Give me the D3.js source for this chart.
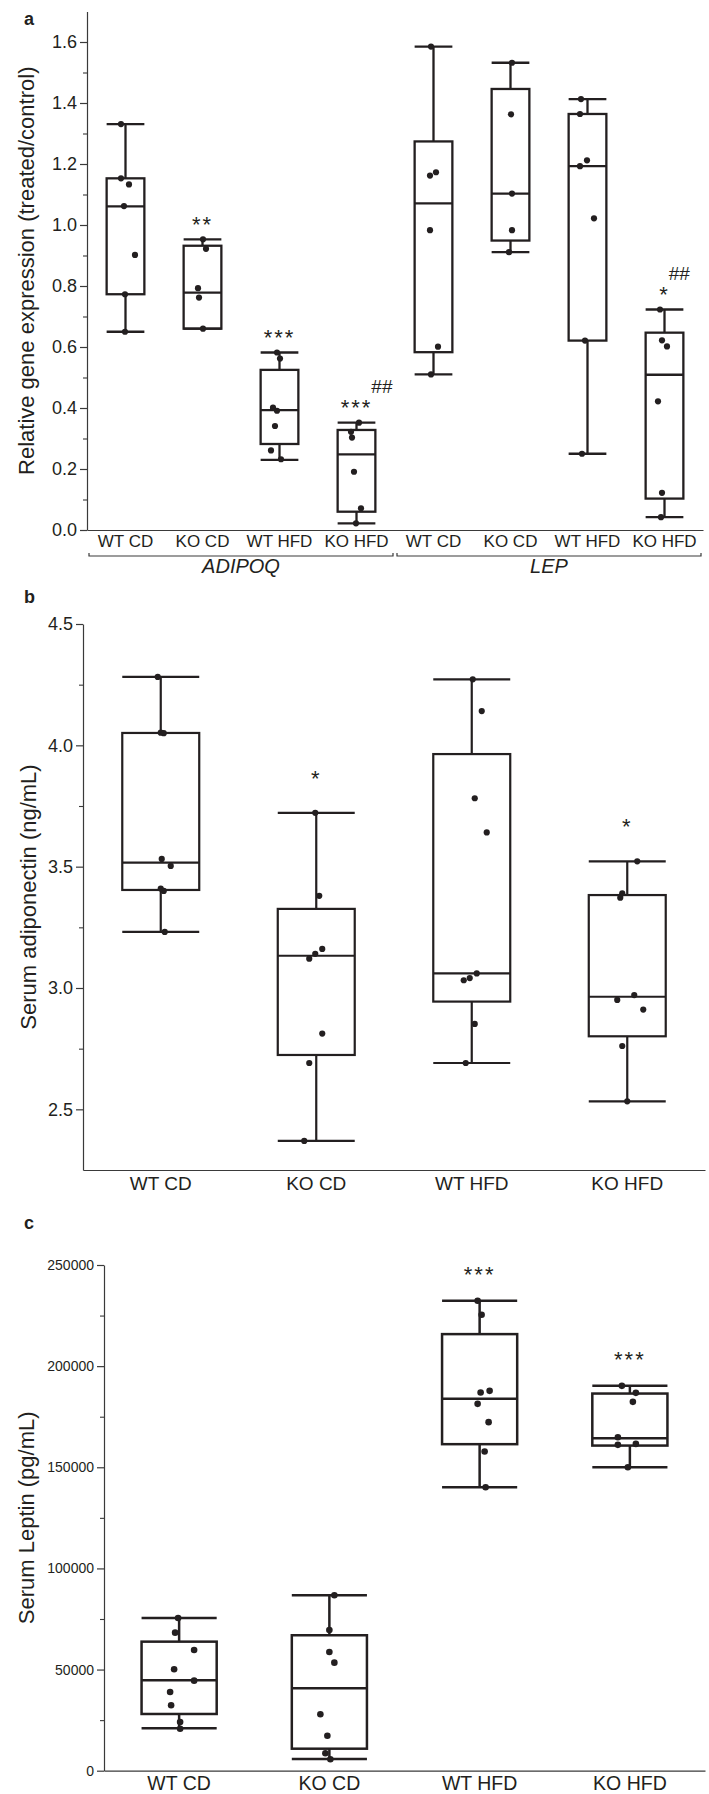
<!DOCTYPE html>
<html><head><meta charset="utf-8">
<script src="https://cdn.jsdelivr.net/npm/d3@7"></script>
<style>
body{margin:0;background:#fff}
svg{display:block}
</style>
</head><body>
<svg id="chart" width="709" height="1794"></svg>
<script>
// ---------------- DATA ----------------
// Panel a: relative gene expression
const geneCategories = ["WT CD","KO CD","WT HFD","KO HFD","WT CD","KO CD","WT HFD","KO HFD"];
const geneGroupLabels = ["ADIPOQ","LEP"];
const geneGroupMembers = [[0,3],[4,7]];
const geneTicks = [0,0.2,0.4,0.6,0.8,1.0,1.2,1.4,1.6];
const geneMinorTicks = [0.1,0.3,0.5,0.7,0.9,1.1,1.3,1.5];
const geneLow    = [0.650,0.660,0.230,0.022,0.510,0.911,0.250,0.042];
const geneQ1     = [0.773,0.660,0.282,0.060,0.583,0.949,0.621,0.103];
const geneMedian = [1.061,0.778,0.393,0.248,1.071,1.103,1.193,0.509];
const geneQ3     = [1.153,0.932,0.525,0.328,1.274,1.446,1.364,0.647];
const geneHigh   = [1.331,0.953,0.582,0.352,1.585,1.532,1.413,0.723];
const genePoints = [
  [1.331,1.153,1.133,1.062,0.902,0.773,0.650],
  [0.953,0.922,0.793,0.762,0.660],
  [0.582,0.562,0.401,0.391,0.341,0.261,0.232],
  [0.352,0.322,0.303,0.191,0.071,0.022],
  [1.585,1.173,1.162,0.983,0.601,0.510],
  [1.532,1.363,1.103,0.983,0.911],
  [1.413,1.364,1.212,1.193,1.022,0.621,0.250],
  [0.723,0.622,0.602,0.422,0.122,0.042]
];
const geneSignif = ["","**","***","***","","","","*"];
const geneHash   = ["","","","##","","","","##"];

// Panel b: serum adiponectin
const adipoCategories = ["WT CD","KO CD","WT HFD","KO HFD"];
const adipoTicks = [2.5,3.0,3.5,4.0,4.5];
const adipoMinorTicks = [2.75,3.25,3.75,4.25];
const adipoLow    = [3.231,2.370,2.691,2.533];
const adipoQ1     = [3.404,2.724,2.944,2.801];
const adipoMedian = [3.517,3.133,3.060,2.964];
const adipoQ3     = [4.051,3.326,3.964,3.383];
const adipoHigh   = [4.282,3.722,4.272,3.522];
const adipoPoints = [
  [4.282,4.052,4.050,3.532,3.503,3.410,3.400,3.231],
  [3.722,3.380,3.161,3.141,3.121,2.812,2.691,2.370],
  [4.272,4.141,3.782,3.641,3.060,3.041,3.032,2.852,2.691],
  [3.522,3.390,3.372,2.971,2.951,2.911,2.761,2.533]
];
const adipoSignif = ["","*","","*"];

// Panel c: serum leptin
const leptinCategories = ["WT CD","KO CD","WT HFD","KO HFD"];
const leptinTicks = [0,50000,100000,150000,200000,250000];
const leptinMinorTicks = [25000,75000,125000,175000,225000];
const leptinLow    = [20970,5790,140160,150040];
const leptinQ1     = [28040,10880,161420,160730];
const leptinMedian = [44710,40750,183830,164400];
const leptinQ3     = [63800,66960,215830,186450];
const leptinHigh   = [75500,86740,232290,190260];
const leptinPoints = [
  [75500,68250,59690,50150,44510,38920,32340,24080,20770],
  [86740,69580,58700,53410,27890,17310,8600,5640],
  [232290,225370,187780,186940,181350,172300,157770,140160],
  [190260,186800,182340,164880,161570,161080,150040]
];
const leptinSignif = ["","","***","***"];

// ---------------- LAYOUT / STYLE (jitter offsets in px) ----------------
const geneJitter = [
  [-4.5,-4.5,3.5,-1.5,9.5,-0.5,-0.5],
  [0.5,3.5,-4.5,-3.5,0.5],
  [-2.5,0.5,-6.5,-2.5,-4.5,-8.5,1.5],
  [2.5,-5.5,-4.5,-2.5,4.5,-0.5],
  [-2.5,2.5,-3.5,-3.5,4.5,-2.5],
  [1.5,0.5,1.5,1.5,-1.5],
  [-6.5,-7.5,-0.5,-7.5,6.5,-2.5,-5.5],
  [-4.5,-2.5,2.5,-6.5,-2.5,-3.5]
];
const adipoJitter = [
  [-3,0,3,1,10,0,3,4],
  [-1,3,6,-1,-7,6,-7,-12],
  [1,10,3,15,5,-2,-8,3,-6],
  [10,-5,-7,7,-10,16,-5,0]
];
const leptinJitter = [
  [-1,-4,15,-5,15,-9,-8,1,1],
  [5,0,0,5,-9,-2,-4,1],
  [-2,2,10,1,-2,9,5,6],
  [-8,6,3,-12,6,-12,-2]
];

const FONT = '"Liberation Sans", Arial, Helvetica, sans-serif';
const INK = "#231f20";
const AXIS = "#3a3a3a";

const svg = d3.select("#chart");
svg.append("rect").attr("width",709).attr("height",1794).attr("fill","#fff");

function drawPanel(o){
  const g = svg.append("g");
  const n = o.categories.length;
  const x = d3.scaleBand().domain(d3.range(n)).range(o.xRange).paddingInner(0).paddingOuter(0);
  const y = d3.scaleLinear().domain(o.yDomain).range(o.yRange);
  const bw = x.bandwidth()*o.boxFrac;
  const cx = i => x(i) + x.bandwidth()/2;

  // minor ticks
  const ym = g.append("g").attr("transform",`translate(${o.xRange[0]},0)`)
    .call(d3.axisLeft(y).tickValues(o.minorTicks).tickSize(4).tickSizeOuter(0).tickFormat(""));
  ym.select(".domain").remove();
  ym.selectAll(".tick line").attr("stroke",AXIS).attr("stroke-width",1.1);

  // major y axis
  const ya = g.append("g").attr("transform",`translate(${o.xRange[0]},0)`)
    .call(d3.axisLeft(y).tickValues(o.ticks).tickSize(7).tickSizeOuter(0).tickPadding(3).tickFormat(o.tickFormat));
  ya.attr("font-family",FONT).attr("font-size",o.tickFont);
  ya.select(".domain").attr("stroke",AXIS).attr("stroke-width",1.2);
  ya.selectAll(".tick line").attr("stroke",AXIS).attr("stroke-width",1.2);
  ya.selectAll(".tick text").attr("fill",INK);

  // x axis
  const xa = g.append("g").attr("transform",`translate(0,${o.yRange[0]})`)
    .call(d3.axisBottom(x).tickSize(0).tickSizeOuter(0).tickPadding(o.xPad).tickFormat(i=>o.categories[i]));
  xa.attr("font-family",FONT).attr("font-size",o.xFont);
  xa.select(".domain").attr("stroke",AXIS).attr("stroke-width",1.2);
  xa.selectAll(".tick text").attr("fill",INK);

  // boxes
  const sw = o.boxStroke;
  for(let i=0;i<n;i++){
    const c = cx(i);
    g.append("line").attr("x1",c).attr("x2",c).attr("y1",y(o.low[i])).attr("y2",y(o.high[i]))
      .attr("stroke",INK).attr("stroke-width",sw);
    g.append("rect").attr("x",c-bw/2).attr("width",bw)
      .attr("y",y(o.q3[i])).attr("height",Math.max(0,y(o.q1[i])-y(o.q3[i])))
      .attr("fill","#fff").attr("stroke",INK).attr("stroke-width",sw);
    g.append("line").attr("x1",c-bw/2).attr("x2",c+bw/2).attr("y1",y(o.median[i])).attr("y2",y(o.median[i]))
      .attr("stroke",INK).attr("stroke-width",sw);
    [o.low[i],o.high[i]].forEach(v=>{
      g.append("line").attr("x1",c-bw/2).attr("x2",c+bw/2).attr("y1",y(v)).attr("y2",y(v))
        .attr("stroke",INK).attr("stroke-width",sw).attr("stroke-linecap","butt");
    });
    g.selectAll(null).data(o.points[i]).enter().append("circle")
      .attr("cx",(d,j)=>c+o.jitter[i][j]).attr("cy",d=>y(d)).attr("r",o.r).attr("fill",INK);

    // significance
    const s = o.signif[i];
    if(s){
      const centerY = y(o.high[i]) - o.sigGap;
      const t = g.append("text").attr("x",c).attr("y",centerY + 0.58*o.sigFont)
        .attr("text-anchor","middle").attr("font-family",FONT).attr("font-size",o.sigFont)
        .attr("letter-spacing",2).attr("fill",INK).text(s);
      if(o.hash && o.hash[i]){
        const w = t.node().getComputedTextLength();
        g.append("text").attr("x",c + w/2 - 1).attr("y",centerY - 16 + 0.36*o.hashFont)
          .attr("font-family",FONT).attr("font-size",o.hashFont).attr("fill",INK).text(o.hash[i]);
      }
    }
  }

  // y title
  const ymid = (o.yRange[0]+o.yRange[1])/2;
  g.append("text").attr("transform",`translate(${o.titleX},${ymid}) rotate(-90)`)
    .attr("text-anchor","middle").attr("font-family",FONT).attr("font-size",o.titleFont)
    .attr("fill",INK).text(o.title);

  // panel letter
  g.append("text").attr("x",24).attr("y",o.letterY).attr("font-family",FONT)
    .attr("font-weight","bold").attr("font-size",18).attr("fill",INK).text(o.letter);

  // groups
  if(o.groupLabels){
    o.groupLabels.forEach((lab,k)=>{
      const [s,e] = o.groupMembers[k];
      const x1 = x(s)+2, x2 = x(e)+x.bandwidth()-2, yb = o.groupY;
      g.append("path").attr("d",`M${x1},${yb-3}V${yb}H${x2}V${yb-3}`)
        .attr("fill","none").attr("stroke",AXIS).attr("stroke-width",1.2);
      g.append("text").attr("x",(x1+x2)/2).attr("y",o.groupLabelY).attr("text-anchor","middle")
        .attr("font-family",FONT).attr("font-style","italic").attr("font-size",20).attr("fill",INK).text(lab);
    });
  }
}

drawPanel({
  categories:geneCategories, ticks:geneTicks, minorTicks:geneMinorTicks,
  low:geneLow,q1:geneQ1,median:geneMedian,q3:geneQ3,high:geneHigh,points:genePoints,jitter:geneJitter,
  signif:geneSignif, hash:geneHash,
  yDomain:[0,1.7], yRange:[530,11.5], xRange:[87,703], boxFrac:0.49,
  tickFormat:d3.format(".1f"), tickFont:18, xFont:17, xPad:5,
  boxStroke:2.3, r:3.1, sigGap:20, sigFont:22, hashFont:19,
  title:"Relative gene expression (treated/control)", titleX:34, titleFont:22,
  letter:"a", letterY:25,
  groupLabels:geneGroupLabels, groupMembers:geneGroupMembers, groupY:556, groupLabelY:573
});

drawPanel({
  categories:adipoCategories, ticks:adipoTicks, minorTicks:adipoMinorTicks,
  low:adipoLow,q1:adipoQ1,median:adipoMedian,q3:adipoQ3,high:adipoHigh,points:adipoPoints,jitter:adipoJitter,
  signif:adipoSignif,
  yDomain:[2.25,4.5], yRange:[1170,624], xRange:[83,705], boxFrac:0.495,
  tickFormat:d3.format(".1f"), tickFont:18, xFont:19, xPad:6.5,
  boxStroke:2.2, r:3.1, sigGap:40, sigFont:22,
  title:"Serum adiponectin (ng/mL)", titleX:36, titleFont:22,
  letter:"b", letterY:603
});

drawPanel({
  categories:leptinCategories, ticks:leptinTicks, minorTicks:leptinMinorTicks,
  low:leptinLow,q1:leptinQ1,median:leptinMedian,q3:leptinQ3,high:leptinHigh,points:leptinPoints,jitter:leptinJitter,
  signif:leptinSignif,
  yDomain:[0,250000], yRange:[1770.7,1265], xRange:[104,705], boxFrac:0.5,
  tickFormat:d3.format("d"), tickFont:14, xFont:19.5, xPad:5.5,
  boxStroke:2.5, r:3.3, sigGap:32, sigFont:22,
  title:"Serum Leptin (pg/mL)", titleX:34, titleFont:22,
  letter:"c", letterY:1229
});
</script>
</body></html>
